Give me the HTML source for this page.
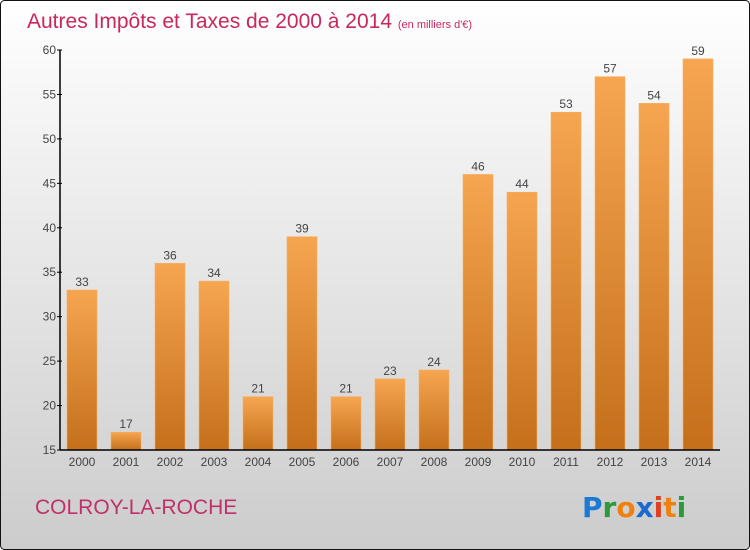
<!DOCTYPE html>
<html><head><meta charset="utf-8"><style>
body{margin:0;}
svg{display:block;font-family:"Liberation Sans","DejaVu Sans",sans-serif;}
</style></head><body>
<svg id="chart" width="750" height="550" viewBox="0 0 750 550">
<defs>
<linearGradient id="bg" x1="0" y1="0" x2="0" y2="1"><stop offset="0" stop-color="#ffffff"/><stop offset="1" stop-color="#cccccc"/></linearGradient>
<linearGradient id="bar" x1="0" y1="0" x2="0" y2="1"><stop offset="0" stop-color="#f6a550"/><stop offset="1" stop-color="#c56f1b"/></linearGradient>
</defs>
<rect x="0.5" y="0.5" width="749" height="549" rx="4" fill="url(#bg)" stroke="#111"/>
<text x="27" y="28" font-size="21" fill="#c8285a">Autres Impôts et Taxes de 2000 à 2014 <tspan font-size="11">(en milliers d'€)</tspan></text>
<g id="bars"></g>
<g id="axes"></g>
<text x="35" y="514" font-size="21" fill="#c0306a">COLROY-LA-ROCHE</text>
<g font-size="28" font-weight="bold" font-family="'DejaVu Sans',sans-serif">
<text x="582" y="517"><tspan fill="#1a7ad4">P</tspan><tspan fill="#2a9a3a">r</tspan><tspan fill="#f08010">o</tspan><tspan fill="#1a6ad0">x</tspan><tspan fill="#e04020">i</tspan><tspan fill="#f08010">t</tspan><tspan fill="#2a9a3a">i</tspan></text>
</g>
</svg>
<script>
const years=["2000","2001","2002","2003","2004","2005","2006","2007","2008","2009","2010","2011","2012","2013","2014"];
const values=[33,17,36,34,21,39,21,23,24,46,44,53,57,54,59];
const yTicks=[15,20,25,30,35,40,45,50,55,60];
const NS="http://www.w3.org/2000/svg";
const x0=60,x1=720,yTop=50,yBot=450,yMin=15,yMax=60;
const band=(x1-x0)/years.length;
const y=v=>yBot-(v-yMin)/(yMax-yMin)*(yBot-yTop);
const xc=i=>x0+band*(i+0.5);
function mk(t,a,p){const e=document.createElementNS(NS,t);for(const k in a)e.setAttribute(k,a[k]);p.appendChild(e);return e;}
const gb=document.getElementById('bars'),ga=document.getElementById('axes');
values.forEach((v,i)=>{
 const r=mk('rect',{x:xc(i)-15,y:y(v),width:30,height:yBot-y(v),fill:'url(#bar)',stroke:'#f7b060','stroke-width':0.6},gb);
 
 
 const t=mk('text',{x:xc(i),y:y(v)-4,'text-anchor':'middle','font-size':12,fill:'#444'},gb);
 t.textContent=v;
 
 
 const xl=mk('text',{x:xc(i),y:466,'text-anchor':'middle','font-size':12,fill:'#444'},ga);
 xl.textContent=years[i];
 
 
});
const yl=mk('line',{x1:x0,y1:yTop,x2:x0,y2:yBot,stroke:'#000','stroke-width':1.5},ga);


const xa=mk('line',{x1:x0,y1:yBot,x2:x1,y2:yBot,stroke:'#000','stroke-width':1.5},ga);


yTicks.forEach(v=>{
 mk('line',{x1:x0-3,y1:y(v),x2:x0+2,y2:y(v),stroke:'#000'},ga);
 const t=mk('text',{x:x0-4,y:y(v)+4,'text-anchor':'end','font-size':12,fill:'#444'},ga);
 t.textContent=v;
 
 
});
</script>
</body></html>
